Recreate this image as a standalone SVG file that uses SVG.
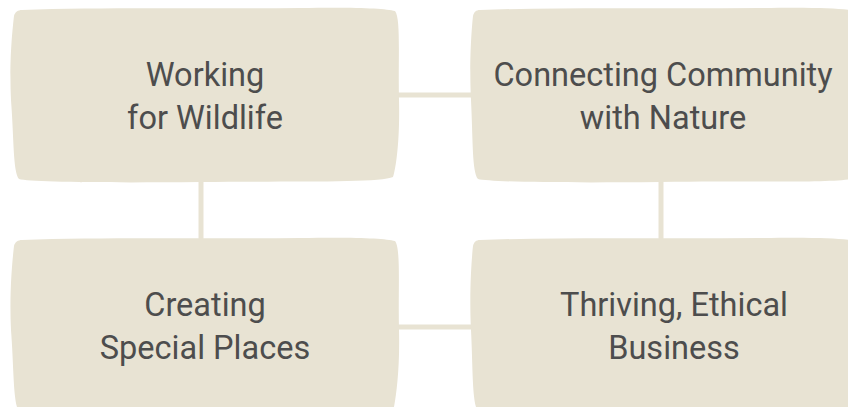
<svg xmlns="http://www.w3.org/2000/svg" width="848" height="407" viewBox="0 0 848 407">
<style>
.box{fill:#E8E3D3;}
.conn{stroke:#E8E3D3;stroke-width:5;fill:none;}
.lbl{font-family:Roboto,"Liberation Sans",sans-serif;font-size:32.5px;fill:#4d4d4d;text-anchor:middle;}
</style>
<rect width="848" height="407" fill="#ffffff"/>
<g id="connectors">
<line class="conn" x1="398" y1="95" x2="472" y2="95"/>
<line class="conn" x1="201" y1="180" x2="201" y2="241"/>
<line class="conn" x1="661" y1="180" x2="661" y2="241"/>
<line class="conn" x1="398" y1="327" x2="472" y2="327"/>
</g>
<g id="node-wildlife">
<path class="box" d="M22,10 C100,7 200,9 300,8 C350,7 385,8 395,11 C401,18 398,60 399,100 C400,140 396,168 393,177 C380,183 300,181 200,182 C100,183 30,182 19,179 C13,172 14,140 11,100 C9,60 13,25 14,16 C15,12 18,10 22,10 Z"/>
<text class="lbl" x="205" y="86">Working</text>
<text class="lbl" x="205" y="129">for Wildlife</text>
</g>
<g id="node-community">
<path class="box" d="M480,10 C560,7 660,9 760,8 C810,7 845,8 855,11 L855,178 C840,183 760,181 660,182 C560,183 490,182 478,179 C472,172 473,140 471,100 C469,60 472,25 473,16 C474,12 476,10 480,10 Z"/>
<text class="lbl" x="663" y="86">Connecting Community</text>
<text class="lbl" x="663" y="129">with Nature</text>
</g>
<g id="node-places">
<path class="box" d="M22,240 C100,237 200,239 300,238 C350,237 385,238 395,241 C401,248 398,290 399,330 C400,370 396,398 393,412 L19,412 C13,402 14,370 11,330 C9,290 13,255 14,246 C15,242 18,240 22,240 Z"/>
<text class="lbl" x="205" y="316">Creating</text>
<text class="lbl" x="205" y="359">Special Places</text>
</g>
<g id="node-business">
<path class="box" d="M480,240 C560,237 660,239 760,238 C810,237 845,238 855,241 L855,412 L478,412 C472,402 473,370 471,330 C469,290 472,255 473,246 C474,242 476,240 480,240 Z"/>
<text class="lbl" x="674" y="316">Thriving, Ethical</text>
<text class="lbl" x="674" y="359">Business</text>
</g>
</svg>
